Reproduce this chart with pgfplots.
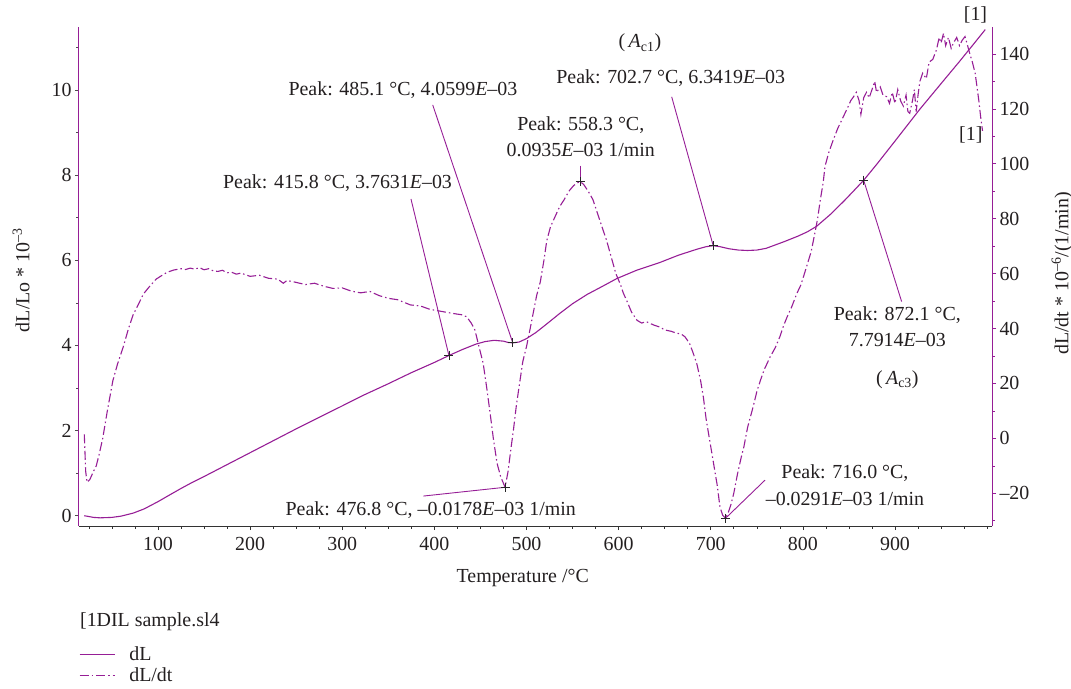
\documentclass[border=0pt]{standalone}
\usepackage{fontspec}
\setmainfont{Liberation Serif}
\usepackage{pgfplots}
\pgfplotsset{compat=1.18}
\definecolor{pur}{RGB}{150,30,150}
\definecolor{txt}{RGB}{35,31,32}
\begin{document}
\begin{tikzpicture}[font=\fontsize{20}{26.5}\selectfont, text=txt]
\useasboundingbox (-79bp,-163bp) rectangle (992bp,526bp);
\pgfplotsset{
  base/.style={
    scale only axis, width=913bp, height=499bp,
    at={(0bp,0bp)}, anchor=south west,
    xmin=14.25, xmax=1005.3,
    clip=false,
    tick align=outside,
    major tick length=4bp, minor tick length=2.5bp,
    /pgf/number format/assume math mode=true,
    tick label style={font=\fontsize{20}{22}\selectfont, text=txt},
  },
  dd/.style={pur, line width=1.1bp, dash pattern=on 9bp off 3bp on 1.5bp off 3bp},
  dl/.style={pur, line width=1.1bp},
  pk/.style={only marks, mark=+, mark size=4.5bp, black!85, mark options={line width=0.8bp}, forget plot},
  ld/.style={pur, line width=0.9bp, no marks, forget plot},
}
\begin{axis}[base,
  axis x line*=bottom, axis y line*=left,
  x axis line style={-, black!80, line width=0.8bp},
  y axis line style={-, pur, line width=1bp},
  x tick style={black!80, line width=0.6bp},
  y tick style={black!70, line width=0.6bp},
  xticklabel style={yshift=-4bp},
  ymin=-0.242, ymax=11.48,
  xtick={100,200,...,900}, minor xtick={25,50,...,1000},
  ytick={0,2,...,10}, minor ytick={1,3,...,11},
  xlabel={Temperature /°C},
  ylabel={dL/Lo * 10\textsuperscript{\textendash3}},
  xlabel style={at={(axis description cs:0.486,-0.104)}, anchor=center},
  ylabel style={at={(axis description cs:-0.0635,0.493)}, anchor=center},
  legend style={draw=none, fill=none, at={(axis description cs:0,-0.2786)}, anchor=west, inner sep=0pt, row sep=2bp,
    /tikz/every odd column/.append style={column sep=12bp}},
  legend cell align=left,
  legend image code/.code={\draw[#1] (0bp,0bp) -- (35bp,0bp);},
]
\addplot[dl] coordinates {
(20,0.0)(30,-0.04)(37,-0.05)(50,-0.04)(60,-0.01)(73,0.06)(85,0.16)(100,0.33)(112,0.48)(125,0.64)(137,0.78)(150,0.92)
(175,1.2)(200,1.48)(225,1.76)(250,2.04)(275,2.31)(300,2.58)(322,2.82)(350,3.1)(375,3.36)(400,3.6)(415.8,3.7631)
(430,3.9)(445,4.03)(455,4.09)(465,4.12)(475,4.1)(480,4.07)(485.1,4.0599)(492,4.08)(500,4.16)(510,4.3)(520,4.47)
(536,4.75)(550,4.98)(566,5.2)(580,5.36)(598,5.57)(620,5.77)(645,5.95)(665,6.12)(685,6.26)(695,6.32)(702.7,6.3419)
(710,6.32)(720,6.27)(730,6.24)(740,6.23)(750,6.24)(760,6.28)(780,6.44)(795,6.57)(805,6.67)(815,6.8)(830,7.08)
(845,7.4)(856,7.65)(866,7.88)(880,8.25)(900,8.8)(927,9.55)(950,10.15)(970,10.67)(985,11.07)(998,11.42)
};
\addlegendentry{dL}
\addlegendimage{dd}
\addlegendentry{dL/dt}
\addplot[pk] coordinates {(415.8,3.7631)(485.1,4.0599)(702.7,6.3419)(866,7.88)};
\addplot[ld] coordinates {(374.6,7.44)(415.8,3.7631)};
\addplot[ld] coordinates {(398.2,9.65)(485.1,4.0599)};
\addplot[ld] coordinates {(657.6,9.84)(702.7,6.3419)};
\addplot[ld] coordinates {(907.2,5.03)(866,7.88)};
\node at (axis cs:294.9,7.81) {Peak: 415.8 °C, 3.7631\textit{E}\textendash03};
\node at (axis cs:365.9,10.0) {Peak: 485.1 °C, 4.0599\textit{E}\textendash03};
\node[align=center] at (axis cs:558.9,8.9) {Peak: 558.3 °C,\\0.0935\textit{E}\textendash03 1/min};
\node at (axis cs:656.6,10.27) {Peak: 702.7 °C, 6.3419\textit{E}\textendash03};
\node at (axis cs:623.2,11.1) {(\,\textit{A}\textsubscript{c1})};
\node at (axis cs:987.4,11.76) {[1]};
\node at (axis cs:982.3,8.94) {[1]};
\node[align=center] at (axis cs:902.5,4.44) {Peak: 872.1 °C,\\7.7914\textit{E}\textendash03};
\node at (axis cs:902.5,3.19) {(\,\textit{A}\textsubscript{c3})};
\node at (axis cs:396.1,0.134) {Peak: 476.8 °C, \textendash0.0178\textit{E}\textendash03 1/min};
\node[align=center] at (axis cs:845.7,0.72) {Peak: 716.0 °C,\\\textendash0.0291\textit{E}\textendash03 1/min};
\node[anchor=west, inner sep=0pt] at (axis description cs:0.001,-0.1918) {[1DIL sample.sl4};
\end{axis}
\begin{axis}[base,
  axis x line=none, axis y line*=right,
  y axis line style={-, pur, line width=1bp},
  y tick style={pur, line width=0.6bp},
  ymin=-31.9, ymax=149.8,
  ytick={-20,0,...,140}, minor ytick={-30,-10,...,150},
  yticklabels={\textendash20,0,20,40,60,80,100,120,140},
  ylabel={dL/dt * 10\textsuperscript{\textendash6}/(1/min)},
  ylabel style={at={(axis description cs:1.0767,0.506)}, anchor=center},
]
\addplot[dd] coordinates {
(20,1.5)(21.5,-12)(23,-16)(26,-15)(30,-12)(33,-10)(36,-6)(40,0)(45,10)(51,21)(56,27)(62,33)(68,40)(73,45)(79,49)
(84,52.5)(90,55)(98,58)(105,59.5)(110,60.5)(117,61.3)(125,61.8)(130,61.5)(135,62)(140,61.6)(145,62.2)(150,61.4)
(155,61.8)(160,61)(165,60.8)(170,61.2)(175,60.3)(180,60.5)(185,59.8)(190,60.2)(200,59)(210,59.4)(220,58.3)(230,58)
(236,56.5)(240,57.5)(250,56.8)(260,56)(270,56.5)(280,55.4)(290,54.6)(300,54.8)(310,53.6)(320,53)(330,53.5)(340,52)
(350,51)(360,50.5)(374,48.6)(385,48.2)(395,47)(410,46.1)(420,45.5)(430,45)(435,44.3)(440,42)(444,39.5)(448,34)
(453,27.3)(457,18)(460.5,9.2)(464,0)(468,-9)(472,-14)(476.8,-17.8)(480,-12)(483,-4)(485.8,3)(489,12)(493,21.2)
(496,28)(500,33.4)(504,40)(507.5,46)(511,52)(515,57)(519,65)(522,72)(526,77)(530,80)(536,84.4)(541,87)(546,90)
(551,92)(555,93)(558.3,93.5)(562,92.5)(567,90)(572,87)(577,82)(582,77)(587,72)(592,66)(597,60)(602,56)(605,53)
(609,50)(614,46)(620,43)(625,42)(630,42.5)(638,41.3)(645,40.5)(650,39.5)(657,39)(663,38.3)(668,38)(672,37)
(677,34.6)(681,31)(685,27)(689,21)(692,15)(695,7)(699,-1)(703,-9)(707,-17)(710,-25)(713,-28)(716,-29.1)(719,-27)
(722,-24)(725,-20)(729,-13)(733,-7)(736,-3)(740,4)(746,11.5)(750,17)(754,21.2)(758,25)(764.5,29.7)(770,33)
(775,37)(779,41)(783,44.3)(788,48)(793.5,52.8)(798,56)(804,62.5)(809,68)(813,74.7)(816,80)(819,87)(822,93)
(824,99)(828,104)(833,108.7)(838,113)(844,117.2)(848,120)(852,123)(855,124.4)(858,126)(861,123)(863,118)(866,124)
(869,126)(872,124)(875,127)(878,130)(880,126)(884,128)(887,125)(891,124.4)(894,122)(897,126)(900,122)(903,127)
(906,123)(909,121)(912,125)(914,119)(916,118.4)(919,123)(921,127)(923,119)(925,125)(927,130)(930,133)(934,131)
(937,137)(941,138)(945,141.5)(948,146)(950,144)(952.7,147.5)(955,143)(958,146)(961,142)(963.5,144)(967,146)
(970,143)(973,145)(976,146.3)(978,144)(981,140.3)(984,137)(987,133)(989,128)(991,123)(993,117)(995,112)
};
\addplot[pk] coordinates {(558.3,93.5)(476.8,-17.8)(716,-29.1)};
\addplot[ld] coordinates {(558.3,99.3)(558.3,93.5)};
\addplot[ld] coordinates {(388,-21.0)(476.8,-17.8)};
\addplot[ld] coordinates {(758.9,-15.2)(716,-29.1)};
\end{axis}
\end{tikzpicture}
\end{document}
